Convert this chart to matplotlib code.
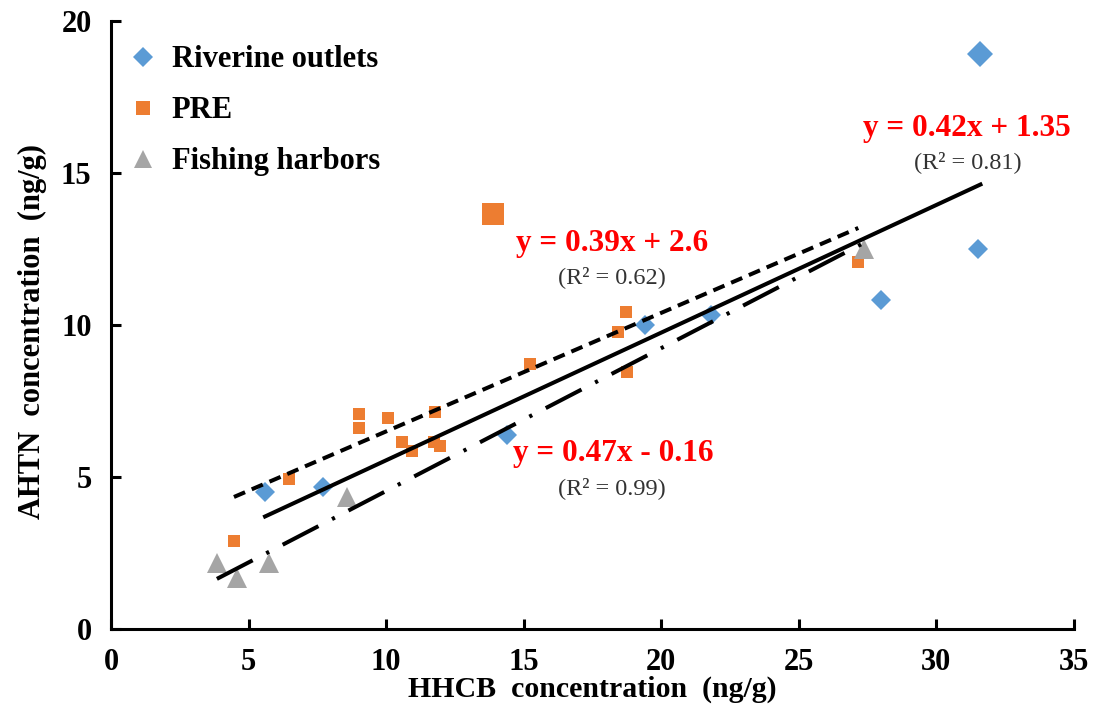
import numpy as np
import matplotlib
matplotlib.use('Agg')
import matplotlib.pyplot as plt
from matplotlib.lines import Line2D

plt.rcParams['font.family'] = ['Liberation Serif', 'DejaVu Serif']

# data (HHCB, AHTN in ng/g)
riv_x = [5.6, 7.7, 14.4, 19.4, 21.8, 28.0, 31.5]
riv_y = [4.52, 4.67, 6.38, 10.0, 10.33, 10.82, 12.5]
riv_big_x = [31.6]
riv_big_y = [18.9]

pre_x = [4.47, 6.47, 9.02, 9.02, 10.07, 10.58, 10.95, 11.78, 11.75, 11.96,
         15.24, 18.73, 18.44, 18.76, 27.16]
pre_y = [2.89, 4.93, 7.07, 6.61, 6.94, 6.15, 5.86, 7.14, 6.15, 6.02,
         8.73, 10.43, 9.77, 8.45, 12.07]
pre_big_x = [13.9]
pre_big_y = [13.65]

fish_x = [3.85, 4.58, 5.75, 8.58, 27.35]
fish_y = [2.17, 1.68, 2.17, 4.34, 12.5]

# regression lines: riverine, PRE, fishing harbors
slopes = [0.42, 0.39, 0.47]
intercepts = [1.35, 2.6, -0.16]
eq_labels = ['y = 0.42x + 1.35', 'y = 0.39x + 2.6', 'y = 0.47x - 0.16']
r2_labels = ['(R\u00b2 = 0.81)', '(R\u00b2 = 0.62)', '(R\u00b2 = 0.99)']

blue = '#5B9BD5'
orange = '#ED7D31'
gray = '#A5A5A5'

fig = plt.figure(figsize=(11.02, 7.17), dpi=100)
ax = fig.add_axes([0.1007, 0.1227, 0.8739, 0.848])

ax.plot(riv_x, riv_y, 'D', color=blue, ms=10.5, mew=0, zorder=3)
ax.plot(riv_big_x, riv_big_y, 'D', color=blue, ms=13.5, mew=0, zorder=3)
ax.plot(pre_x, pre_y, 's', color=orange, ms=9.2, mew=0, zorder=3)
ax.plot(pre_big_x, pre_big_y, 's', color=orange, ms=15.5, mew=0, zorder=3)
ax.plot(fish_x, fish_y, '^', color=gray, ms=15, mew=0, zorder=3)

# fit lines over each group's x range
all_x = [riv_x + riv_big_x, pre_x + pre_big_x, fish_x]
styles = [dict(ls='-'), dict(dashes=(3.0, 1.8)), dict(dashes=(10, 3.8, 0.8, 3.8))]
for xs, m, b, st in zip(all_x, slopes, intercepts, styles):
    xx = np.array([min(xs), max(xs)])
    ax.plot(xx, m * xx + b, color='black', lw=2.9, zorder=4, **st)

# equation annotations
eq_pos = [(31.1, 16.45), (18.2, 12.68), (18.25, 5.77)]
r2_pos = [(31.15, 15.35), (18.2, 11.57), (18.2, 4.65)]
for (ex, ey), (rx, ry), e, r in zip(eq_pos, r2_pos, eq_labels, r2_labels):
    ax.text(ex, ey, e, color='#FF0000', fontsize=22.5, fontweight='bold',
            ha='center', va='center', zorder=5)
    ax.text(rx, ry, r, color='#333333', fontsize=17.5, ha='center',
            va='center', zorder=5)

ax.set_xlim(0, 35)
ax.set_ylim(0, 20)
ax.set_xticks(range(0, 36, 5))
ax.set_yticks(range(0, 21, 5))
for s in ['top', 'right']:
    ax.spines[s].set_visible(False)
for s in ['left', 'bottom']:
    ax.spines[s].set_linewidth(2.2)
ax.tick_params(direction='in', length=7, width=2.2, labelsize=22, pad=14)
for lab in ax.get_xticklabels() + ax.get_yticklabels():
    lab.set_fontweight('bold')

ax.set_xlabel('HHCB  concentration  (ng/g)', fontsize=21.5, fontweight='bold',
              labelpad=-1)
ax.set_ylabel('AHTN  concentration  (ng/g)', fontsize=22, fontweight='bold')
ax.yaxis.set_label_coords(-0.066, 0.49)

handles = [
    Line2D([], [], marker='D', color=blue, ls='none', ms=10, mew=0),
    Line2D([], [], marker='s', color=orange, ls='none', ms=9.5, mew=0),
    Line2D([], [], marker='^', color=gray, ls='none', ms=13.5, mew=0),
]
ax.legend(handles, ['Riverine outlets', 'PRE', 'Fishing harbors'],
          loc='upper left', bbox_to_anchor=(-0.005, 0.995), frameon=False,
          prop={'size': 22, 'weight': 'bold'}, handlelength=1.0,
          handletextpad=0.45, labelspacing=0.72, borderaxespad=0.3)

fig.savefig('out.png', dpi=100)
